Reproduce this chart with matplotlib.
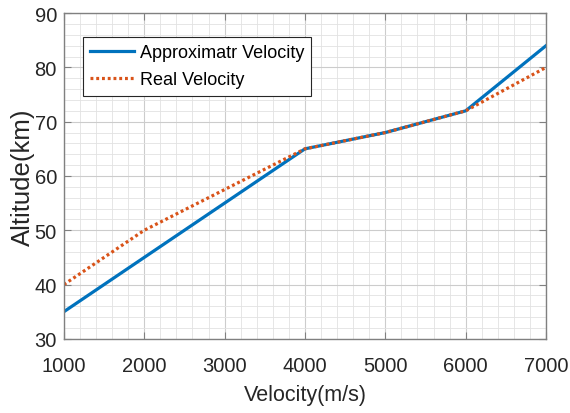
import matplotlib.pyplot as plt
from matplotlib.ticker import MultipleLocator

plt.rcParams['font.family'] = ['Liberation Sans', 'DejaVu Sans']

approx_v = [1000, 4000, 5000, 6000, 7000]
approx_alt = [35, 65, 68, 72, 84]
real_v = [1000, 2000, 4000, 5000, 6000, 7000]
real_alt = [40, 50, 65, 68, 72, 80]

fig = plt.figure(figsize=(5.7, 4.14), dpi=100)
ax = fig.add_axes([0.112, 0.179, 0.846, 0.787])

ax.plot(approx_v, approx_alt, color='#0072BD', linewidth=2.3, label='Approximatr Velocity')
ax.plot(real_v, real_alt, color='#D95319', linewidth=2.3, linestyle=(0, (0.9, 0.9)), label='Real Velocity')

ax.set_xlim(1000, 7000)
ax.set_ylim(30, 90)
ax.xaxis.set_major_locator(MultipleLocator(1000))
ax.xaxis.set_minor_locator(MultipleLocator(200))
ax.yaxis.set_major_locator(MultipleLocator(10))
ax.yaxis.set_minor_locator(MultipleLocator(2))

ax.grid(which='major', color='#cccccc', linewidth=0.8)
ax.grid(which='minor', color='#e2e2e2', linewidth=0.6)
ax.set_axisbelow(True)

ax.tick_params(which='major', direction='in', length=5, top=True, right=True,
               labelsize=14.5, colors='#808080', labelcolor='#262626', width=0.8)
ax.tick_params(axis='x', which='major', pad=12)
ax.tick_params(axis='y', which='major', pad=5)
ax.tick_params(which='minor', length=0, top=True, right=True)
for s in ax.spines.values():
    s.set_color('#808080')
    s.set_linewidth(1.0)

ax.set_xlabel('Velocity(m/s)', fontsize=15.5, color='#262626', labelpad=7)
ax.set_ylabel('Altitude(km)', fontsize=18.5, color='#262626', labelpad=0)

leg = ax.legend(loc='upper left', bbox_to_anchor=(0.039, 0.926), borderaxespad=0,
                fontsize=13, frameon=True, fancybox=False, edgecolor='#262626',
                framealpha=1, handlelength=2.45, borderpad=0.4, labelspacing=0.55,
                handletextpad=0.3)
leg.get_frame().set_linewidth(0.8)

fig.savefig('out.png', dpi=100)
